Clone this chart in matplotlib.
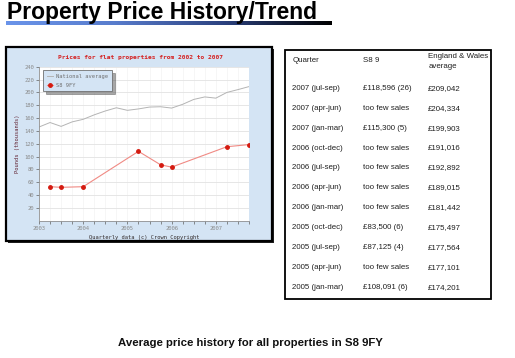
import numpy as np
import matplotlib
matplotlib.use('Agg')
import matplotlib.pyplot as plt
from matplotlib.patches import Rectangle
from matplotlib.colors import LinearSegmentedColormap

# Data
nat_x = [2003.0, 2003.25, 2003.5, 2003.75, 2004.0, 2004.25, 2004.5, 2004.75,
         2005.0, 2005.25, 2005.5, 2005.75, 2006.0, 2006.25, 2006.5, 2006.75,
         2007.0, 2007.25, 2007.5, 2007.75]
nat_values = [146, 153, 147, 154, 158, 165, 171, 176,
              172, 174.2, 177.1, 177.6, 175.5, 181.4, 189.0, 192.9,
              191.0, 199.9, 204.3, 209.0]
s8_x = [2003.25, 2003.5, 2004.0, 2005.25, 2005.75, 2006.0, 2007.25, 2007.75]
s8_values = [53, 52, 53, 108.1, 87.1, 83.5, 115.3, 118.6]
year_ticks = [2003, 2004, 2005, 2006, 2007]

table_quarters = ['2007 (jul-sep)', '2007 (apr-jun)', '2007 (jan-mar)', '2006 (oct-dec)',
                  '2006 (jul-sep)', '2006 (apr-jun)', '2006 (jan-mar)', '2005 (oct-dec)',
                  '2005 (jul-sep)', '2005 (apr-jun)', '2005 (jan-mar)']
table_s8 = ['£118,596 (26)', 'too few sales', '£115,300 (5)', 'too few sales',
            'too few sales', 'too few sales', 'too few sales', '£83,500 (6)',
            '£87,125 (4)', 'too few sales', '£108,091 (6)']
table_ew = ['£209,042', '£204,334', '£199,903', '£191,016', '£192,892', '£189,015',
            '£181,442', '£175,497', '£177,564', '£177,101', '£174,201']

W, H = 515, 358
fig = plt.figure(figsize=(W / 100, H / 100), dpi=100)


def fx(px):
    return px / W


def fy(py):
    return 1 - py / H


# Page title + gradient underline
fig.text(fx(7), fy(18.5), 'Property Price History/Trend', family='Liberation Sans',
         fontsize=16.5, fontweight='bold', va='baseline', ha='left')
bar = fig.add_axes([fx(6), fy(25), fx(326), 4.3 / H])
grad = LinearSegmentedColormap.from_list('g', ['#6a94ea', '#587ccc', '#2c4280', '#000000'])
bar.imshow(np.linspace(0, 1, 256)[None, :], aspect='auto', cmap=grad)
bar.axis('off')

# Chart panel (with a dark drop edge on the right/bottom)
panel_col = '#d4e4f4'
fig.patches.append(Rectangle((fx(7.5), fy(242.5)), fx(266), 194 / H, transform=fig.transFigure,
                             facecolor='#202020', edgecolor='none', zorder=-3))
fig.patches.append(Rectangle((fx(6), fy(241)), fx(266), 194 / H, transform=fig.transFigure,
                             facecolor=panel_col, edgecolor='black', linewidth=1.6, zorder=-2))

ax = fig.add_axes([fx(39), fy(220.7), fx(210), 154 / H])
ax.set_facecolor('white')
mono = 'DejaVu Sans Mono'
ax.plot(nat_x, nat_values, color='#b4b4b4', linewidth=0.7, label='National average')
ax.plot(s8_x, s8_values, color='#f08a84', linewidth=0.8, marker='o', markersize=2.5,
        markerfacecolor='#d41a10', markeredgecolor='#d41a10', label='S8 9FY')
ax.set_xlim(2003, 2007.75)
ax.set_ylim(0, 240)
ax.set_yticks(np.arange(20, 241, 20))
ax.set_xticks(year_ticks)
ax.set_xticks(np.arange(2003, 2007.8, 0.25), minor=True)
ax.grid(axis='y', color='#e2e2e2', linewidth=0.6)
ax.grid(axis='x', which='both', color='#f3f3f3', linewidth=0.5)
ax.set_axisbelow(True)
for s in ['top', 'right']:
    ax.spines[s].set_visible(False)
for s in ['left', 'bottom']:
    ax.spines[s].set_color('#909090')
    ax.spines[s].set_linewidth(0.6)
ax.tick_params(axis='both', which='both', labelsize=4, labelcolor='#8a8a8a', color='#606060',
               length=2, width=0.5, pad=1.5)
for lab in ax.get_xticklabels() + ax.get_yticklabels():
    lab.set_family(mono)
ax.set_xlabel('Quarterly data (c) Crown Copyright', family=mono, fontsize=3.9,
              color='#302828', labelpad=3)
ax.set_ylabel('Pounds (thousands)', family=mono, fontsize=3.9, color='#602030', labelpad=3)
fig.text(fx(140), fy(57.5), 'Prices for flat properties from 2002 to 2007', family=mono,
         fontsize=4.5, color='#d42020', fontweight='bold', ha='center', va='center')
leg = ax.legend(loc='upper left', bbox_to_anchor=(0.018, 0.978), borderaxespad=0,
                prop={'family': mono, 'size': 3.9}, labelcolor='#707070', fancybox=False,
                shadow={'color': '#505050'}, framealpha=1, facecolor=panel_col,
                edgecolor='#707070', handlelength=1.2, handletextpad=0.6,
                borderpad=0.7, labelspacing=0.7)
leg.get_frame().set_linewidth(0.6)

# Table
fig.patches.append(Rectangle((fx(285), fy(299)), fx(206), 249 / H, transform=fig.transFigure,
                             facecolor='white', edgecolor='black', linewidth=1.3, zorder=-2))
col_x = [fx(292.3), fx(363.3), fx(428.3)]
tprops = dict(family='Liberation Sans', fontsize=5.7, color='#202020', va='center', ha='left')
fig.text(col_x[0], fy(60.5), 'Quarter', **tprops)
fig.text(col_x[1], fy(60.5), 'S8 9', **tprops)
fig.text(col_x[2], fy(56.5), 'England & Wales', **tprops)
fig.text(col_x[2], fy(66.7), 'average', **tprops)
for i, (q, s, e) in enumerate(zip(table_quarters, table_s8, table_ew)):
    y = fy(88.3 + i * 19.9)
    fig.text(col_x[0], y, q, **tprops)
    fig.text(col_x[1], y, s, **tprops)
    fig.text(col_x[2], y, e, **tprops)

# Caption
fig.text(fx(250), fy(343), 'Average price history for all properties in S8 9FY',
         family='Liberation Sans', fontsize=8.2, fontweight='bold', ha='center', va='center',
         color='#101010')

fig.savefig('out.png', dpi=100)
